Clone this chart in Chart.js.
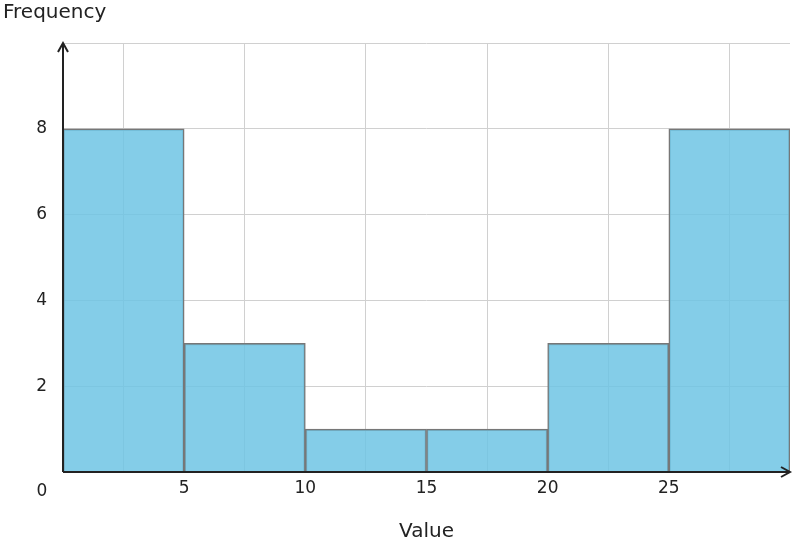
<!DOCTYPE html>
<html><head><meta charset="utf-8">
<script src="https://cdn.jsdelivr.net/npm/chart.js@4"></script>
<style>html,body{margin:0;padding:0;background:#fff}#w{width:796px;height:548px}</style>
</head><body><div id="w"><canvas id="c"></canvas></div>
<script>
const binCenters = [2.5, 7.5, 12.5, 17.5, 22.5, 27.5];
const frequencies = [8, 3, 1, 1, 3, 8];
const xTickValues = [5, 10, 15, 20, 25];
const yTickValues = [2, 4, 6, 8];

const deco = {
  id: 'deco',
  afterDraw(chart) {
    const {ctx, chartArea: a} = chart;
    ctx.save();
    ctx.strokeStyle = '#222'; ctx.lineWidth = 2;
    ctx.beginPath(); ctx.moveTo(a.left, a.bottom); ctx.lineTo(a.right, a.bottom);
    ctx.moveTo(a.left, a.bottom); ctx.lineTo(a.left, a.top); ctx.stroke();
    ctx.beginPath(); ctx.moveTo(a.left-5, a.top+9); ctx.lineTo(a.left, a.top); ctx.lineTo(a.left+5, a.top+9); ctx.stroke();
    ctx.beginPath(); ctx.moveTo(a.right-9, a.bottom-5); ctx.lineTo(a.right, a.bottom); ctx.lineTo(a.right-9, a.bottom+5); ctx.stroke();
    ctx.fillStyle = '#222';
    ctx.font = '20px "DejaVu Sans"'; ctx.textBaseline = 'middle'; ctx.textAlign = 'left';
    ctx.fillText('Frequency', 3, 13);
    ctx.font = '17px "DejaVu Sans"'; ctx.textAlign = 'center';
    ctx.fillText('0', 42, 492);
    ctx.restore();
  }
};

new Chart(document.getElementById('c'), {
  type: 'bar',
  data: { datasets: [{
    data: binCenters.map((x, i) => ({x, y: frequencies[i]})),
    backgroundColor: 'rgba(110,196,228,0.85)',
    borderColor: '#777', borderWidth: 1.5,
    barPercentage: 1, categoryPercentage: 1
  }]},
  options: {
    responsive: true, maintainAspectRatio: false, animation: false,
    layout: { padding: { top: 43, right: 4, left: 0, bottom: 0 } },
    plugins: { legend: { display: false }, tooltip: { enabled: false } },
    scales: {
      x: {
        type: 'linear', min: 0, max: 30, offset: false,
        afterBuildTicks(s) { s.ticks = [0, ...xTickValues, 30].map(v => ({value: v})); },
        ticks: { callback: v => xTickValues.includes(v) ? String(v) : '', color: '#222', font: {size: 17, family: 'DejaVu Sans'}, padding: 6, maxRotation: 0 },
        grid: { color: '#d0d0d0', drawTicks: false },
        border: { display: false },
        title: { display: true, text: 'Value', color: '#222', font: {size: 20, family: 'DejaVu Sans'}, padding: {top: 14} },
        afterFit(s) { s.height = 76; }
      },
      y: {
        min: 0, max: 10,
        afterBuildTicks(s) { s.ticks = [0, ...yTickValues, 10].map(v => ({value: v})); },
        ticks: { callback: v => yTickValues.includes(v) ? String(v) : '', color: '#222', font: {size: 17, family: 'DejaVu Sans'}, padding: 16 },
        grid: { color: '#d0d0d0', drawTicks: false },
        border: { display: false },
        afterFit(s) { s.width = 63; }
      }
    }
  },
  plugins: [deco]
});
</script></body></html>
